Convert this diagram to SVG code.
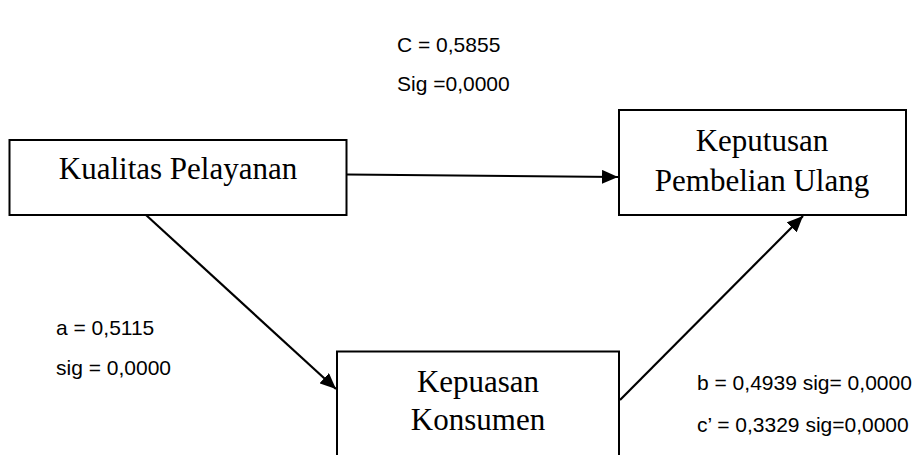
<svg xmlns="http://www.w3.org/2000/svg" width="924" height="455" viewBox="0 0 924 455">
<style>
.box{fill:#fff;stroke:#000;stroke-width:2}
.nt{font-family:"Liberation Serif","Times New Roman",serif;font-size:31px;fill:#000;text-anchor:middle}
.lb{font-family:"Liberation Sans",Arial,sans-serif;font-size:21px;fill:#000}
.cn{stroke:#000;stroke-width:2.2;fill:none;marker-end:url(#ah)}
</style>
<defs>
<marker id="ah" markerUnits="userSpaceOnUse" markerWidth="18" markerHeight="14" refX="16" refY="7" orient="auto">
<path d="M0,0 L16,7 L0,14 Z" fill="#000"/>
</marker>
</defs>
<rect width="924" height="455" fill="#fff"/>
<g id="connectors">
<line class="cn" x1="347" y1="174.5" x2="618" y2="177"/>
<line class="cn" x1="146" y1="215" x2="336" y2="389"/>
<line class="cn" x1="620" y1="400" x2="803" y2="216"/>
</g>
<g id="kualitas">
<rect class="box" x="9.5" y="140" width="337" height="75"/>
<text class="nt" x="178" y="179">Kualitas Pelayanan</text>
</g>
<g id="keputusan">
<rect class="box" x="619" y="110" width="287" height="105"/>
<text class="nt" x="762" y="151">Keputusan</text>
<text class="nt" x="762" y="191">Pembelian Ulang</text>
</g>
<g id="kepuasan">
<rect class="box" x="337" y="351.5" width="282" height="130"/>
<text class="nt" x="478" y="392">Kepuasan</text>
<text class="nt" x="478" y="430">Konsumen</text>
</g>
<g id="labels">
<text class="lb" x="397" y="52">C = 0,5855</text>
<text class="lb" x="397" y="91">Sig =0,0000</text>
<text class="lb" x="56" y="335">a = 0,5115</text>
<text class="lb" x="56" y="375">sig = 0,0000</text>
<text class="lb" x="697" y="390">b = 0,4939 sig= 0,0000</text>
<text class="lb" x="697" y="432">c’ = 0,3329 sig=0,0000</text>
</g>
</svg>
